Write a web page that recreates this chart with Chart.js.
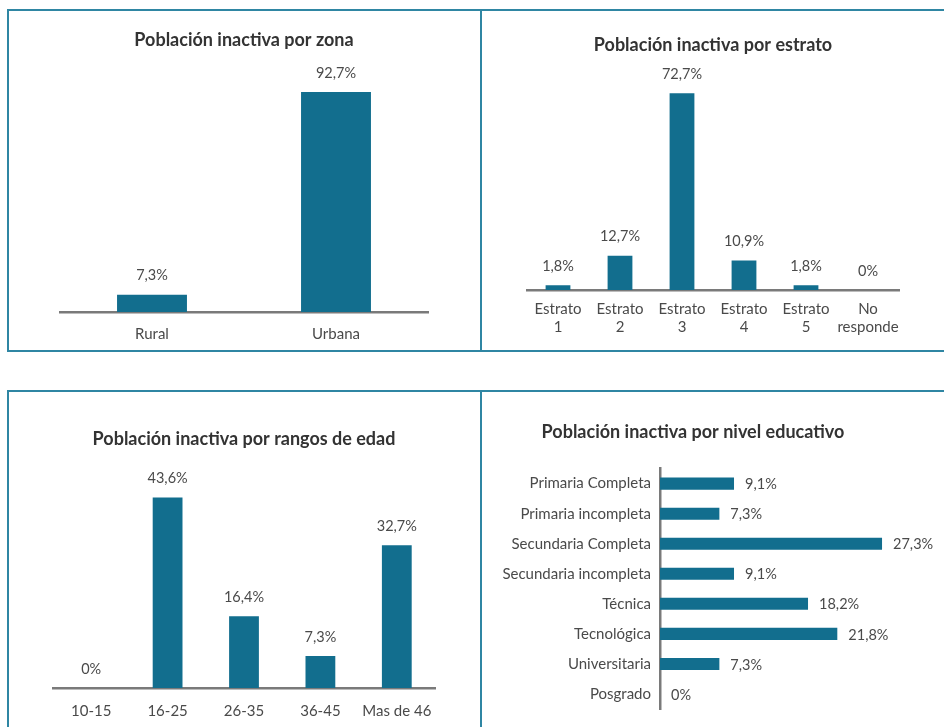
<!DOCTYPE html>
<html><head><meta charset="utf-8">
<script src="https://cdn.jsdelivr.net/npm/chart.js@4/dist/chart.umd.min.js"></script>
<style>
html,body{margin:0;padding:0;background:#fff;width:944px;height:727px;overflow:hidden;position:relative;font-family:Lato,sans-serif}
.b{position:absolute;background:#2f86a3}
.c{position:absolute}
</style></head><body>
<div class="b" style="left:7px;top:9px;width:937px;height:2px"></div>
<div class="b" style="left:7px;top:350px;width:937px;height:2px"></div>
<div class="b" style="left:7px;top:9px;width:2px;height:343px"></div>
<div class="b" style="left:480px;top:9px;width:2px;height:343px"></div>
<div class="b" style="left:7px;top:390px;width:937px;height:2px"></div>
<div class="b" style="left:7px;top:390px;width:2px;height:337px"></div>
<div class="b" style="left:480px;top:390px;width:2px;height:337px"></div>

<div class="c" style="left:9px;top:11px;width:471px;height:339px"><canvas id="c1"></canvas></div>
<div class="c" style="left:482px;top:11px;width:462px;height:339px"><canvas id="c2"></canvas></div>
<div class="c" style="left:9px;top:392px;width:471px;height:335px"><canvas id="c3"></canvas></div>
<div class="c" style="left:482px;top:392px;width:462px;height:335px"><canvas id="c4"></canvas></div>
<script>
// ---- data ----
const zonaLabels = ['Rural', 'Urbana'];
const zonaValues = [7.3, 92.7];
const zonaTitle = 'Población inactiva por zona';

const estratoLabels = [['Estrato', '1'], ['Estrato', '2'], ['Estrato', '3'], ['Estrato', '4'], ['Estrato', '5'], ['No', 'responde']];
const estratoValues = [1.8, 12.7, 72.7, 10.9, 1.8, 0];
const estratoTitle = 'Población inactiva por estrato';

const edadLabels = ['10-15', '16-25', '26-35', '36-45', 'Mas de 46'];
const edadValues = [0, 43.6, 16.4, 7.3, 32.7];
const edadTitle = 'Población inactiva por rangos de edad';

const eduLabels = ['Primaria Completa', 'Primaria incompleta', 'Secundaria Completa', 'Secundaria incompleta', 'Técnica', 'Tecnológica', 'Universitaria', 'Posgrado'];
const eduValues = [9.1, 7.3, 27.3, 9.1, 18.2, 21.8, 7.3, 0];
const eduTitle = 'Población inactiva por nivel educativo';

// ---- style ----
const BAR = '#126e8e';
const TXT = '#4a4a4a';
const AXIS = '#7a7a7a';
const FONT = 'Lato, sans-serif';
Chart.defaults.font.family = FONT;
Chart.defaults.color = TXT;

const fmt = v => (Number.isInteger(v) ? String(v) : v.toFixed(1).replace('.', ',')) + '%';

const valueLabels = {
  id: 'valueLabels',
  afterDatasetsDraw(chart) {
    const ctx = chart.ctx;
    const horiz = chart.options.indexAxis === 'y';
    const meta = chart.getDatasetMeta(0);
    const data = chart.data.datasets[0].data;
    ctx.save();
    ctx.font = '14.5px ' + FONT;
    ctx.fillStyle = TXT;
    meta.data.forEach((bar, i) => {
      const t = fmt(data[i]);
      if (horiz) {
        ctx.textAlign = 'left'; ctx.textBaseline = 'middle';
        ctx.fillText(t, bar.x + 11, bar.y + 1);
      } else {
        ctx.textAlign = 'center'; ctx.textBaseline = 'middle';
        ctx.fillText(t, bar.x, bar.y - 19);
      }
    });
    ctx.restore();
  }
};

const TITLE_FONT = { size: 18, weight: 'bold', family: FONT };
const TICK_FONT = { size: 15, family: FONT };

function vChart(id, labels, values, title, o) {
  return new Chart(document.getElementById(id), {
    type: 'bar',
    data: { labels, datasets: [{ data: values, backgroundColor: BAR, barPercentage: o.bp, categoryPercentage: 1 }] },
    options: {
      responsive: true, maintainAspectRatio: false, animation: false,
      layout: { padding: { left: o.pl, right: o.pr, top: 0, bottom: 0 } },
      plugins: {
        legend: { display: false }, tooltip: { enabled: false },
        title: { display: true, text: title, color: '#333', font: TITLE_FONT, padding: { top: o.tt, bottom: o.tb } }
      },
      scales: {
        y: { display: false, min: 0, max: o.max },
        x: {
          grid: { display: false, drawTicks: false },
          border: { display: true, color: AXIS, width: 2.5 },
          ticks: { color: TXT, font: TICK_FONT, padding: o.tp, maxRotation: 0, autoSkip: false },
          afterFit: s => { s.height = o.xh; }
        }
      }
    },
    plugins: [valueLabels]
  });
}

vChart('c1', zonaLabels, zonaValues, zonaTitle, { bp: 0.38, pl: 51, pr: 52, tt: 18.5, tb: 23.5, max: 100, xh: 38, tp: 13 });
vChart('c2', estratoLabels, estratoValues, estratoTitle, { bp: 0.4, pl: 45, pr: 45, tt: 23.5, tb: 17.5, max: 80, xh: 60, tp: 10 });
vChart('c3', edadLabels, edadValues, edadTitle, { bp: 0.39, pl: 44, pr: 45, tt: 36.5, tb: 19.5, max: 50, xh: 39, tp: 14 });

new Chart(document.getElementById('c4'), {
  type: 'bar',
  data: { labels: eduLabels, datasets: [{ data: eduValues, backgroundColor: BAR, barPercentage: 0.4, categoryPercentage: 1 }] },
  options: {
    indexAxis: 'y',
    responsive: true, maintainAspectRatio: false, animation: false,
    layout: { padding: { left: 0, right: 40, top: 0, bottom: 16 } },
    plugins: {
      legend: { display: false }, tooltip: { enabled: false },
      title: { display: true, text: eduTitle, color: '#333', font: TITLE_FONT, padding: { top: 29.5, bottom: 25.5 } }
    },
    scales: {
      x: { display: false, min: 0, max: 30 },
      y: {
        grid: { display: false, drawTicks: false },
        border: { display: true, color: AXIS, width: 2.5 },
        ticks: { color: TXT, font: TICK_FONT, padding: 9, autoSkip: false },
        afterFit: s => { s.width = 178; }
      }
    }
  },
  plugins: [valueLabels]
});
</script>
</body></html>
